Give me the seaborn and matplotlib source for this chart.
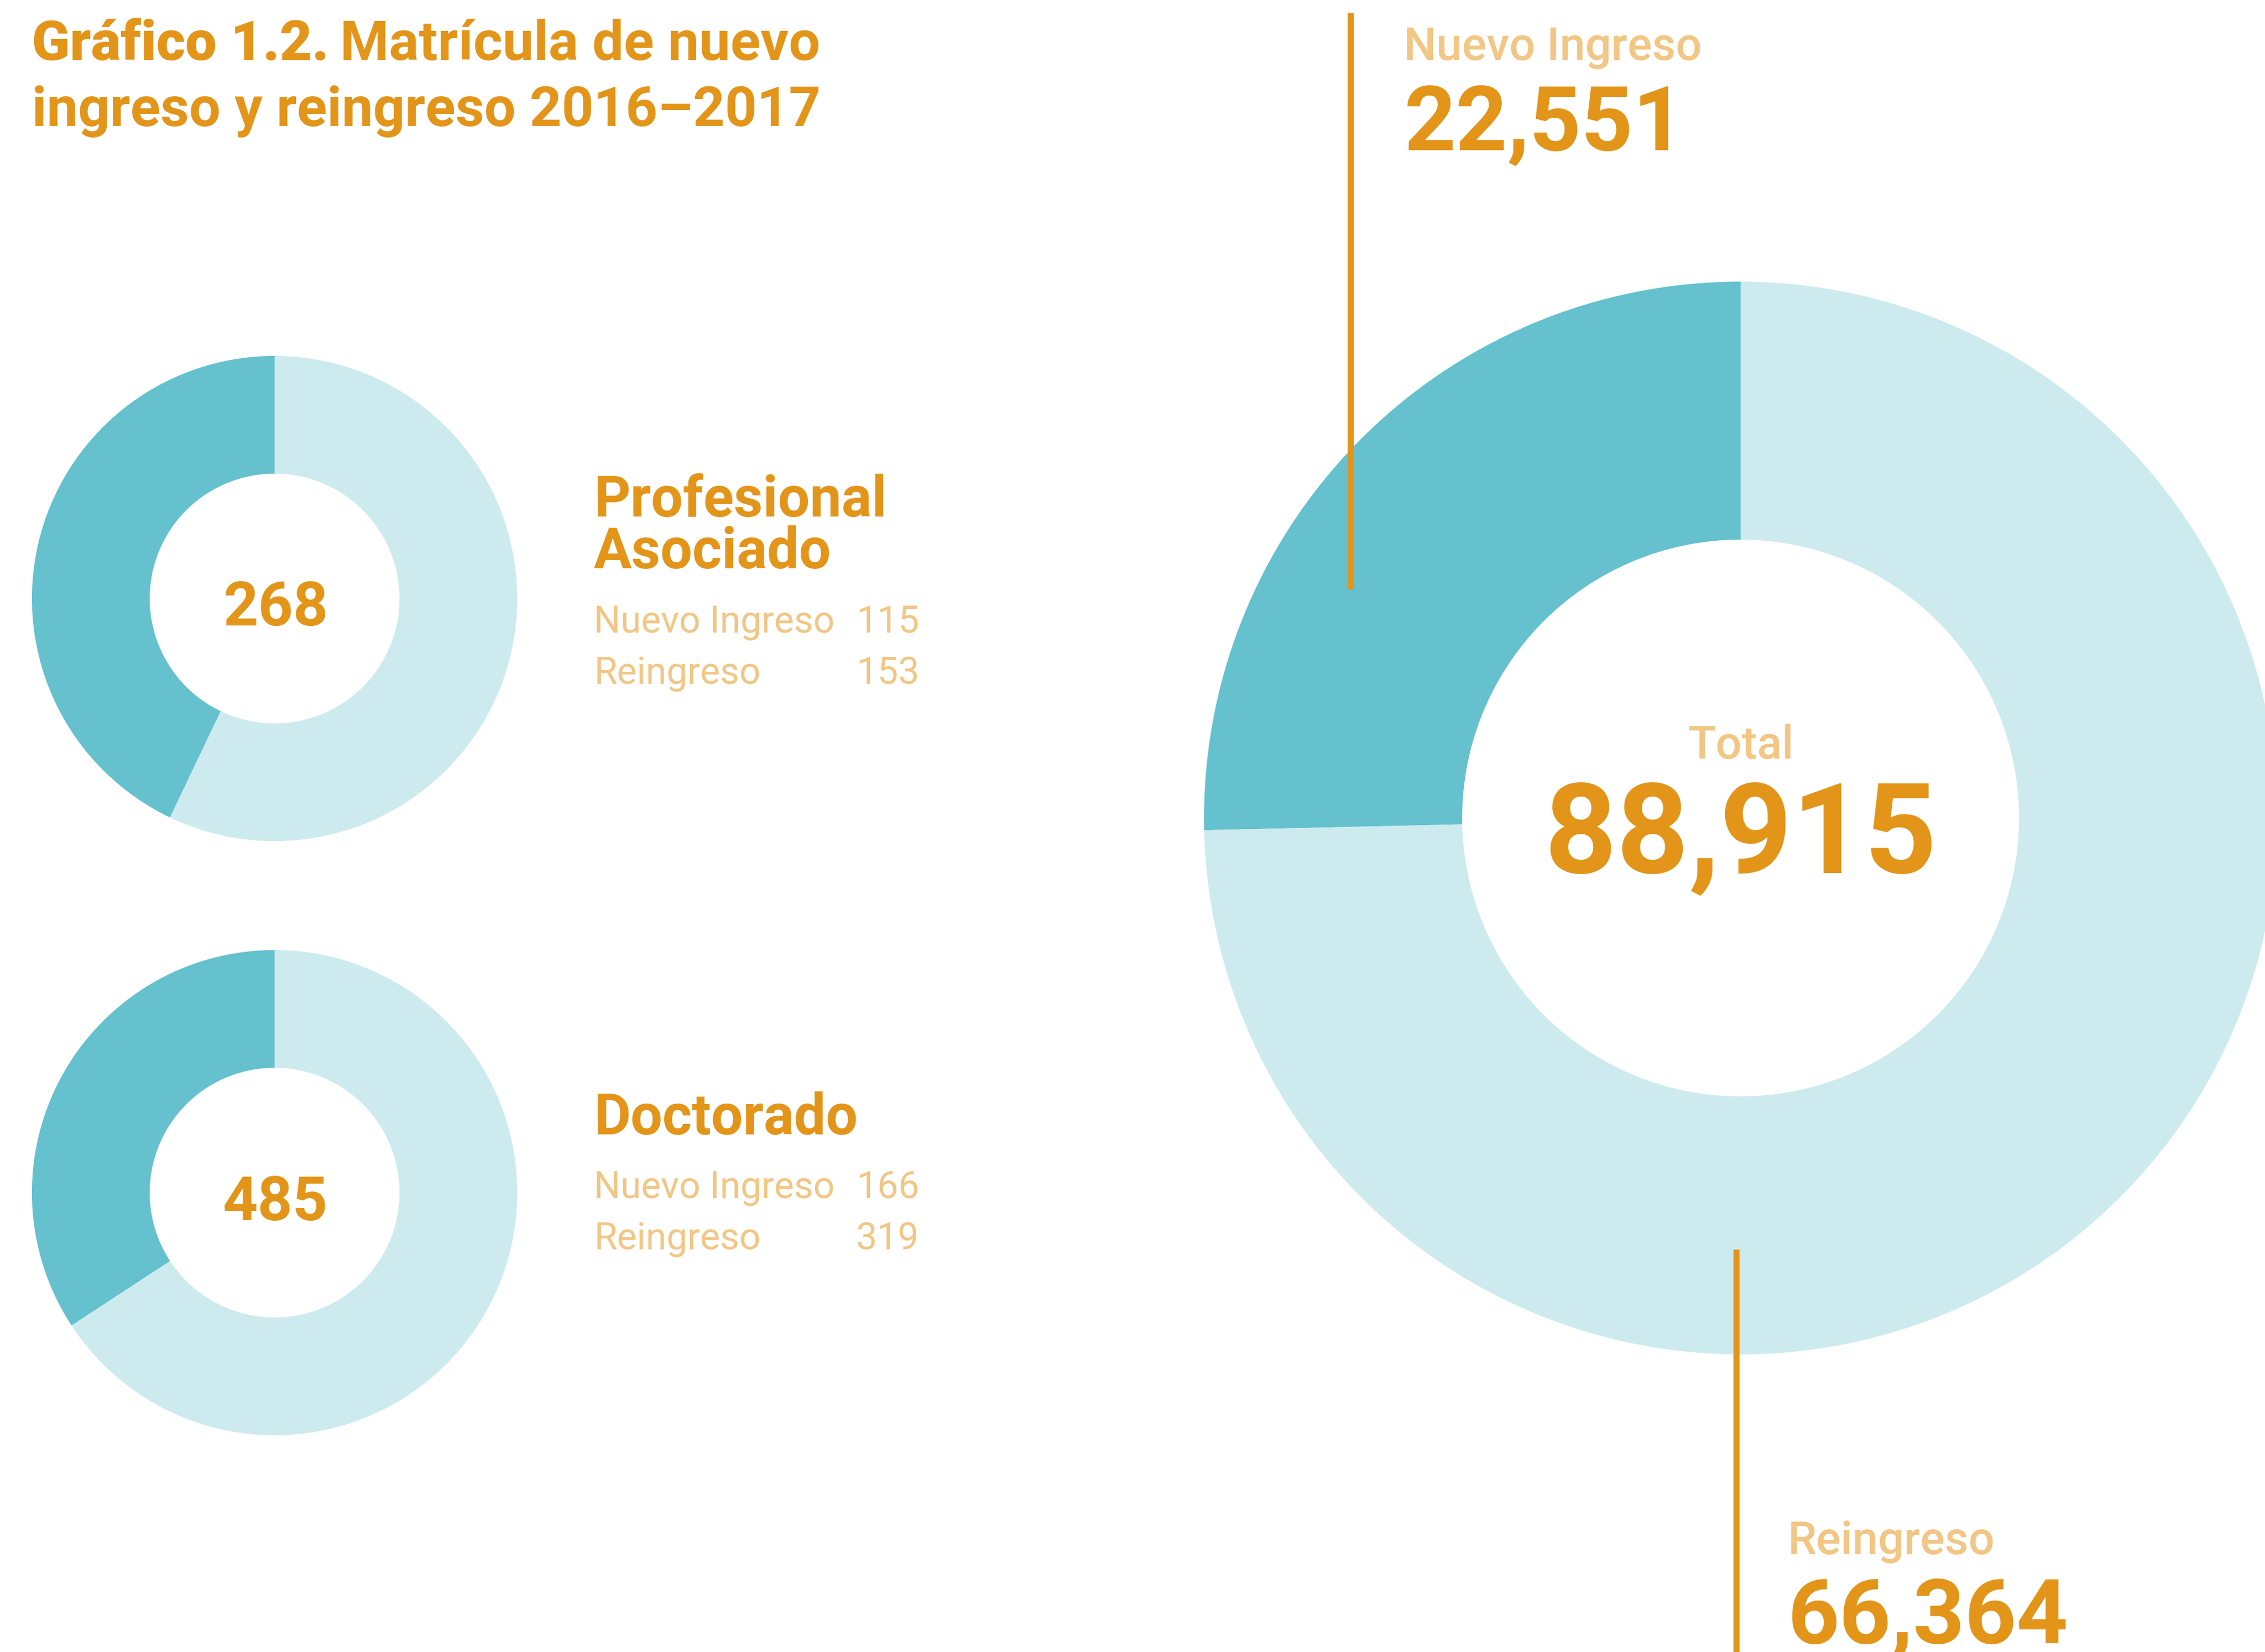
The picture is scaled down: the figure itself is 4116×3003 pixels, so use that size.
import matplotlib
matplotlib.use("Agg")
import matplotlib.pyplot as plt
import seaborn as sns
from matplotlib.lines import Line2D

# data
categories = ["Nuevo Ingreso", "Reingreso"]
profesional = [115, 153]
doctorado = [166, 319]
total = [22551, 66364]

W, H = 4116, 3003
orange = "#E3951A"
light_orange = "#F2C684"
palette = sns.color_palette(["#65C1CE", "#CDEBEE"])

sns.set_theme(style="white")
plt.rcParams["font.family"] = ["Roboto", "DejaVu Sans"]

fig = plt.figure(figsize=(W / 100, H / 100), dpi=100)
fig.patch.set_facecolor("white")


def fx(x):
    return x / W


def fy(y):
    return 1 - y / H


def donut(values, cx, cy, r, r_in):
    ax = fig.add_axes([(cx - r) / W, (H - cy - r) / H, 2 * r / W, 2 * r / H])
    ax.pie(values, colors=palette, startangle=90, counterclock=True, radius=1,
           wedgeprops=dict(width=1 - r_in / r, linewidth=0))
    ax.set_xlim(-1, 1)
    ax.set_ylim(-1, 1)
    ax.set_axis_off()
    return ax


def txt(x, y, s, size, color=orange, weight="normal", ha="left"):
    return fig.text(fx(x), fy(y), s, fontsize=size, color=color,
                    fontweight=weight, ha=ha, va="baseline")


# small donuts
donut(profesional, 499, 1088, 441, 227)
donut(doctorado, 499, 2168, 441, 227)
txt(501, 1137, f"{sum(profesional):,}", 80, weight="bold", ha="center")
txt(501, 2218, f"{sum(doctorado):,}", 80, weight="bold", ha="center")

# big donut
donut(total, 3163, 1487, 975, 506)

# title
renderer = fig.canvas.get_renderer()
t1 = txt(58, 109, "Gráfico 1.2.", 73, weight="black")
x_end = t1.get_window_extent(renderer).x1
fig.text(x_end / W + 0.005, fy(109), "Matrícula de nuevo", fontsize=73,
         color=orange, fontweight="semibold", va="baseline")
txt(58, 229, "ingreso y reingreso 2016–2017", 73, weight="semibold")

# side blocks
blocks = [("Profesional\nAsociado", profesional, 939, 1033),
          ("Doctorado", doctorado, 2062, 2062)]
for name, vals, base_first, base_last in blocks:
    lines = name.split("\n")
    for i, ln in enumerate(lines):
        txt(1079, base_first + i * 94, ln, 74, weight="bold")
    for j, (cat, v) in enumerate(zip(categories, vals)):
        yb = base_last + 116 + j * 94
        txt(1079, yb, cat, 49, color=light_orange, weight="normal")
        txt(1556, yb, f"{v:,}", 49, color=light_orange, weight="normal")

# big donut labels
fig.add_artist(Line2D([fx(2454), fx(2454)], [fy(23), fy(1071)],
                      color=orange, linewidth=8, solid_capstyle="butt"))
fig.add_artist(Line2D([fx(3155), fx(3155)], [fy(2271), fy(3010)],
                      color=orange, linewidth=8, solid_capstyle="butt"))
txt(2551, 109, categories[0], 60, color=light_orange, weight="medium")
txt(2551, 272, f"{total[0]:,}", 118, weight="bold")
txt(3249, 2825, categories[1], 60, color=light_orange, weight="medium")
txt(3249, 2987, f"{total[1]:,}", 118, weight="bold")
txt(3163, 1379, "Total", 60, color=light_orange, weight="medium", ha="center")
txt(3163, 1587, f"{sum(total):,}", 165, weight="bold", ha="center")

fig.savefig("out.png", dpi=100, facecolor="white")
